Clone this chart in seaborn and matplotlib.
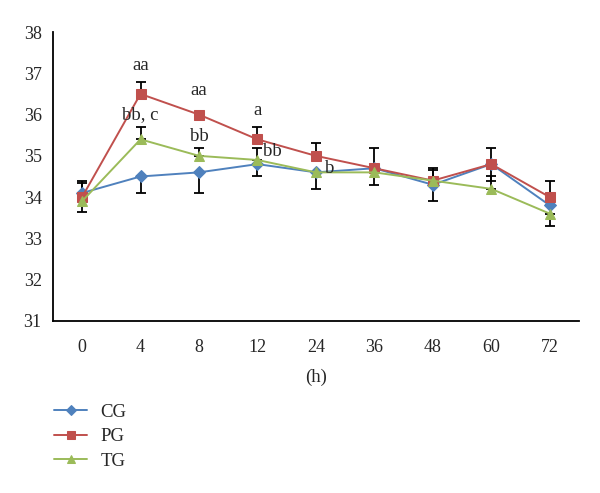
import matplotlib
matplotlib.use("Agg")
import matplotlib.pyplot as plt
import numpy as np
import pandas as pd
import seaborn as sns

# data
hours = ["0", "4", "8", "12", "24", "36", "48", "60", "72"]
groups = ["CG", "PG", "TG"]

cg = [34.1, 34.5, 34.6, 34.8, 34.6, 34.7, 34.3, 34.8, 33.8]
pg = [34.0, 36.5, 36.0, 35.4, 35.0, 34.7, 34.4, 34.8, 34.0]
tg = [33.9, 35.4, 35.0, 34.9, 34.6, 34.6, 34.4, 34.2, 33.6]

# one-sided error bars (lower, upper) as they appear in the picture
cg_lo = [0.0, 0.4, 0.5, 0.3, 0.0, 0.0, 0.4, 0.4, 0.0]
cg_hi = [0.3, 0.0, 0.0, 0.0, 0.0, 0.0, 0.0, 0.0, 0.0]
pg_lo = [0.0, 0.0, 0.0, 0.0, 0.0, 0.0, 0.0, 0.0, 0.0]
pg_hi = [0.35, 0.3, 0.0, 0.3, 0.3, 0.5, 0.3, 0.4, 0.4]
tg_lo = [0.25, 0.0, 0.0, 0.0, 0.4, 0.3, 0.0, 0.0, 0.3]
tg_hi = [0.0, 0.3, 0.2, 0.3, 0.0, 0.0, 0.25, 0.3, 0.0]

# significance letters: (time index, anchor value, text)
letters = [
    (1, 37.2, "aa"),
    (2, 36.58, "aa"),
    (3, 36.11, "a"),
    (1, 35.99, "bb, c"),
    (2, 35.48, "bb"),
    (3, 35.1, "bb"),
    (4, 34.7, "b"),
]
letter_shift = {5: 11, 6: 10}  # letters drawn right of their point

colors = {"CG": "#4F81BD", "PG": "#C0504D", "TG": "#9BBB59"}
markers = {"CG": "D", "PG": "s", "TG": "^"}
msize = {"CG": 6.3, "PG": 7.5, "TG": 7.5}

values = {"CG": cg, "PG": pg, "TG": tg}
errs = {"CG": (cg_lo, cg_hi), "PG": (pg_lo, pg_hi), "TG": (tg_lo, tg_hi)}

rows = []
for g in groups:
    for i, v in enumerate(values[g]):
        rows.append({"pos": i, "temp": v, "group": g})
df = pd.DataFrame(rows)

sns.set_style("white")
plt.rcParams["font.family"] = ["Liberation Serif", "DejaVu Serif"]
plt.rcParams["font.size"] = 13

fig = plt.figure(figsize=(6, 4.93), dpi=100)
ax = fig.add_axes([0.088, 0.349, 0.877, 0.586])

x = np.arange(len(hours))
for g in groups:
    lo, hi = errs[g]
    ax.errorbar(x, values[g], yerr=[lo, hi], fmt="none", ecolor="black",
                elinewidth=1.3, capsize=3.5, capthick=1.3, zorder=1)

for g in groups:
    sub = df[df["group"] == g]
    sns.lineplot(data=sub, x="pos", y="temp", ax=ax, color=colors[g],
                 marker=markers[g], markersize=msize[g], markeredgecolor=colors[g],
                 linewidth=1.4, label=g, zorder=3)

for i, (idx, val, txt) in enumerate(letters):
    dx = letter_shift.get(i, 0)
    ax.annotate(txt, (idx, val), xytext=(dx, 0), textcoords="offset points",
                ha="center", va="center", fontsize=13.5)

ax.set_xlim(-0.5, len(hours) - 0.5)
ax.set_ylim(31, 38)
ax.set_yticks(range(31, 39))
ax.set_xticks(np.arange(-0.5, len(hours), 1.0))
ax.set_xticklabels([])
ax.set_xticks(x, minor=True)
ax.set_xticklabels(hours, minor=True)
ax.tick_params(axis="x", which="minor", length=0, pad=13)
ax.tick_params(axis="x", which="major", length=5, width=1.2, direction="out", color="black")
ax.tick_params(axis="y", length=5, width=1.2, direction="out", color="black", pad=3)
ax.set_xlabel("(h)", fontsize=13.5, labelpad=9)
ax.set_ylabel("")

for side in ["top", "right"]:
    ax.spines[side].set_visible(False)
for side in ["left", "bottom"]:
    ax.spines[side].set_color("black")
    ax.spines[side].set_linewidth(1.3)

handles, labels = ax.get_legend_handles_labels()
ax.get_legend().remove()
fig.legend(handles, labels, loc="upper left", bbox_to_anchor=(0.077, 0.197),
           frameon=False, fontsize=13.5, handlelength=1.8, handletextpad=0.7,
           labelspacing=0.4, borderaxespad=0, markerscale=0.75)

fig.savefig("out.png", dpi=100)
